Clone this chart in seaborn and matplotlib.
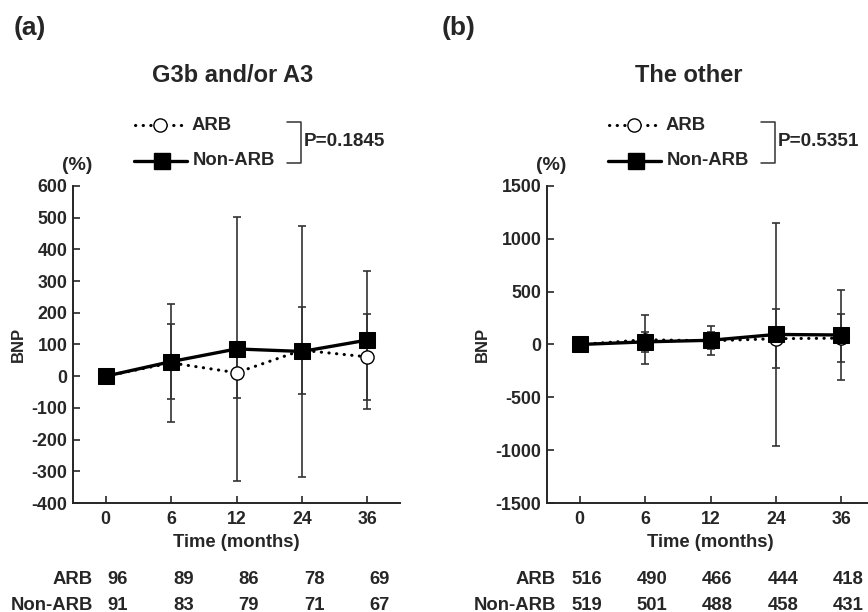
import numpy as np
import pandas as pd
import matplotlib
matplotlib.use("Agg")
import matplotlib.pyplot as plt
import seaborn as sns

# Time points and group labels
times = ["0", "6", "12", "24", "36"]
groups = ["ARB", "Non-ARB"]

# (a) G3b and/or A3 - mean change of BNP (%) and SD
arb_a = [0, 42, 11, 82, 61]
arb_a_sd = [0, 187, 81, 137, 136]
non_a = [0, 46, 86, 78, 114]
non_a_sd = [0, 119, 416, 395, 217]
n_arb_a = [96, 89, 86, 78, 69]
n_non_a = [91, 83, 79, 71, 67]

# (b) The other
arb_b = [0, 45, 35, 55, 60]
arb_b_sd = [0, 232, 80, 278, 228]
non_b = [0, 25, 40, 95, 90]
non_b_sd = [0, 98, 135, 1056, 424]
n_arb_b = [516, 490, 466, 444, 418]
n_non_b = [519, 501, 488, 458, 431]

sns.set_style("ticks")
plt.rcParams["font.family"] = ["Liberation Sans", "DejaVu Sans"]
plt.rcParams["font.weight"] = "bold"
plt.rcParams["axes.unicode_minus"] = False

W, H = 868, 612
fig = plt.figure(figsize=(W / 100, H / 100), dpi=100)

panels = [
    dict(tag="(a)", title="G3b and/or A3", p="P=0.1845", left=73, tag_x=14, title_x=233,
         arb=arb_a, arb_sd=arb_a_sd, non=non_a, non_sd=non_a_sd, n_arb=n_arb_a, n_non=n_non_a,
         ylim=(-400, 600), yticks=np.arange(-400, 601, 100), num_dx=0.03, lab_x=-0.194),
    dict(tag="(b)", title="The other", p="P=0.5351", left=547, tag_x=442, title_x=689,
         arb=arb_b, arb_sd=arb_b_sd, non=non_b, non_sd=non_b_sd, n_arb=n_arb_b, n_non=n_non_b,
         ylim=(-1500, 1500), yticks=np.arange(-1500, 1501, 500), num_dx=-0.13, lab_x=-0.362),
]

dot_style = dict(color="black", lw=2.2, linestyle=(0, (0.1, 2.4)), dash_capstyle="round")
solid_style = dict(color="black", lw=2.4)
fs = 13.3

for pn in panels:
    ax = fig.add_axes([pn["left"] / W, 1 - 503 / H, 327 / W, 317 / H])
    df = pd.DataFrame({
        "pos": list(range(len(times))) * 2,
        "value": pn["arb"] + pn["non"],
        "sd": pn["arb_sd"] + pn["non_sd"],
        "group": [groups[0]] * len(times) + [groups[1]] * len(times),
    })
    arb = df[df["group"] == "ARB"]
    non = df[df["group"] == "Non-ARB"]

    # SD error bars
    for d in (arb, non):
        ax.errorbar(d["pos"], d["value"], yerr=d["sd"], fmt="none", ecolor="#333333",
                    elinewidth=1.2, capsize=2.6, capthick=1.2, zorder=2)

    sns.lineplot(data=arb, x="pos", y="value", ax=ax, marker="o", markersize=9.5,
                 markerfacecolor="white", markeredgecolor="black", markeredgewidth=1.0,
                 zorder=3, **dot_style)
    sns.lineplot(data=non, x="pos", y="value", ax=ax, marker="s", markersize=11.5,
                 markerfacecolor="black", markeredgecolor="black", zorder=4, **solid_style)

    ax.set_xlim(-0.5, 4.5)
    ax.set_ylim(*pn["ylim"])
    ax.set_xticks(range(len(times)))
    ax.set_xticklabels(times)
    ax.set_yticks(pn["yticks"])
    ax.tick_params(direction="in", length=5, width=1.2, labelsize=12.8, pad=4)
    ax.tick_params(axis="x", pad=6)
    for lbl in ax.get_xticklabels() + ax.get_yticklabels():
        lbl.set_fontweight("bold")
    sns.despine(ax=ax)
    for s in ("left", "bottom"):
        ax.spines[s].set_linewidth(1.4)
    ax.set_xlabel("Time (months)", fontsize=fs, fontweight="bold", labelpad=4)
    ax.set_ylabel("BNP", fontsize=12, fontweight="bold", labelpad=4)

    # panel tag and title
    fig.text(pn["tag_x"] / W, 1 - 28 / H, pn["tag"], fontsize=19, fontweight="bold",
             ha="left", va="center")
    fig.text(pn["title_x"] / W, 1 - 75 / H, pn["title"], fontsize=17, fontweight="bold",
             ha="center", va="center")

    # unit
    ax.text(0.06, 1.064, "(%)", transform=ax.transAxes, ha="right", va="center",
            fontsize=14, fontweight="bold")

    # hand-drawn legend
    ax.plot([0.19, 0.333], [1.192, 1.192], transform=ax.transAxes, clip_on=False, **dot_style)
    ax.plot([0.266], [1.192], transform=ax.transAxes, clip_on=False, marker="o", ms=9.5,
            mfc="white", mec="black", mew=1.0, ls="none")
    ax.text(0.361, 1.192, "ARB", transform=ax.transAxes, ha="left", va="center",
            fontsize=fs, fontweight="bold")
    ax.plot([0.187, 0.349], [1.079, 1.079], transform=ax.transAxes, clip_on=False, **solid_style)
    ax.plot([0.272], [1.079], transform=ax.transAxes, clip_on=False, marker="s", ms=11.5,
            mfc="black", mec="black", ls="none")
    ax.text(0.367, 1.079, "Non-ARB", transform=ax.transAxes, ha="left", va="center",
            fontsize=fs, fontweight="bold")

    # bracket with P value
    ax.plot([0.654, 0.697, 0.697, 0.654], [1.202, 1.202, 1.073, 1.073], transform=ax.transAxes,
            clip_on=False, color="#333333", lw=1.1)
    ax.text(0.706, 1.139, pn["p"], transform=ax.transAxes, ha="left", va="center",
            fontsize=13.6, fontweight="bold")

    # numbers at risk
    tr = ax.get_xaxis_transform()
    ax.text(pn["lab_x"], -0.240, "ARB", transform=tr, ha="right", va="center", fontsize=fs,
            fontweight="bold", clip_on=False)
    ax.text(pn["lab_x"], -0.322, "Non-ARB", transform=tr, ha="right", va="center", fontsize=fs,
            fontweight="bold", clip_on=False)
    for i in range(len(times)):
        ax.text(i + pn["num_dx"], -0.240, str(pn["n_arb"][i]), transform=tr, ha="left",
                va="center", fontsize=fs, fontweight="bold", clip_on=False)
        ax.text(i + pn["num_dx"], -0.322, str(pn["n_non"][i]), transform=tr, ha="left",
                va="center", fontsize=fs, fontweight="bold", clip_on=False)

fig.savefig("out.png", dpi=100)
